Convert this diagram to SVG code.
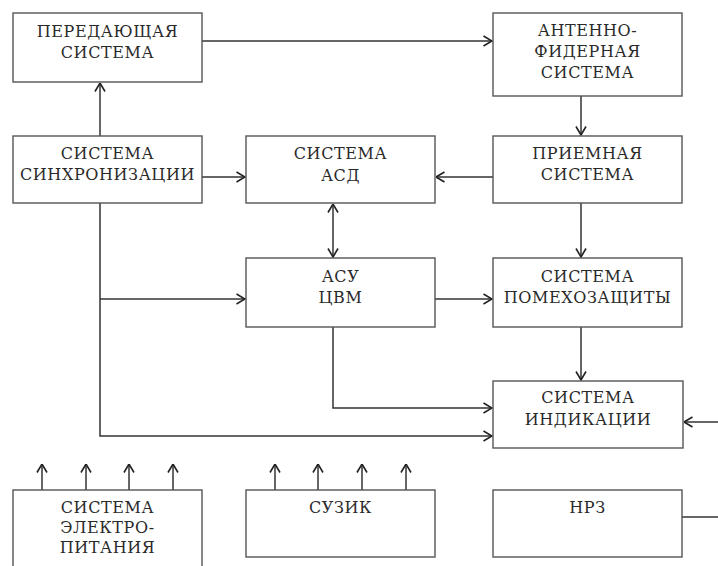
<svg xmlns="http://www.w3.org/2000/svg" width="718" height="566" viewBox="0 0 718 566">
  <style>
    .box { fill: #ffffff; stroke: #555555; stroke-width: 1.4; }
    .wire { fill: none; stroke: #333333; stroke-width: 1.5; }
    .lbl { font-family: "DejaVu Serif", "Liberation Serif", serif; font-size: 16px; letter-spacing: 0.6px; fill: #2a2a2a; text-anchor: middle; }
  </style>
  <defs>
    <marker id="arr" viewBox="0 0 10 12" refX="9.5" refY="6" markerWidth="10" markerHeight="12" markerUnits="userSpaceOnUse" orient="auto-start-reverse">
      <path d="M1,1 L9.5,6 L1,11" fill="none" stroke="#222222" stroke-width="1.6"/>
    </marker>
  </defs>
  <rect width="718" height="566" fill="#ffffff"/>

  <g id="connectors">
    <!-- transmitter to antenna-feeder -->
    <line class="wire" x1="202" y1="41" x2="492" y2="41" marker-end="url(#arr)"/>
    <!-- sync to transmitter -->
    <line class="wire" x1="100" y1="136" x2="100" y2="83" marker-end="url(#arr)"/>
    <!-- antenna to receiver -->
    <line class="wire" x1="581" y1="96" x2="581" y2="135" marker-end="url(#arr)"/>
    <!-- sync to ASD -->
    <line class="wire" x1="202" y1="177" x2="245" y2="177" marker-end="url(#arr)"/>
    <!-- receiver to ASD -->
    <line class="wire" x1="493" y1="177" x2="436" y2="177" marker-end="url(#arr)"/>
    <!-- ASD <-> ASU -->
    <line class="wire" x1="333" y1="204" x2="333" y2="257" marker-start="url(#arr)" marker-end="url(#arr)"/>
    <!-- receiver to jamming protection -->
    <line class="wire" x1="581" y1="203" x2="581" y2="257" marker-end="url(#arr)"/>
    <!-- sync trunk with branches -->
    <polyline class="wire" points="100,203 100,436 492,436" marker-end="url(#arr)"/>
    <line class="wire" x1="100" y1="299" x2="245" y2="299" marker-end="url(#arr)"/>
    <!-- ASU to jamming protection -->
    <line class="wire" x1="435" y1="299" x2="492" y2="299" marker-end="url(#arr)"/>
    <!-- ASU to indication -->
    <polyline class="wire" points="333,327 333,408 492,408" marker-end="url(#arr)"/>
    <!-- jamming protection to indication -->
    <line class="wire" x1="581" y1="327" x2="581" y2="380" marker-end="url(#arr)"/>
    <!-- external input to indication -->
    <line class="wire" x1="718" y1="422" x2="684" y2="422" marker-end="url(#arr)"/>
    <!-- power supply outputs -->
    <line class="wire" x1="42" y1="490" x2="42" y2="464" marker-end="url(#arr)"/>
    <line class="wire" x1="86" y1="490" x2="86" y2="464" marker-end="url(#arr)"/>
    <line class="wire" x1="129" y1="490" x2="129" y2="464" marker-end="url(#arr)"/>
    <line class="wire" x1="173" y1="490" x2="173" y2="464" marker-end="url(#arr)"/>
    <!-- SUZIK outputs -->
    <line class="wire" x1="275" y1="490" x2="275" y2="464" marker-end="url(#arr)"/>
    <line class="wire" x1="318" y1="490" x2="318" y2="464" marker-end="url(#arr)"/>
    <line class="wire" x1="362" y1="490" x2="362" y2="464" marker-end="url(#arr)"/>
    <line class="wire" x1="406" y1="490" x2="406" y2="464" marker-end="url(#arr)"/>
    <!-- NRZ output -->
    <line class="wire" x1="682" y1="517" x2="718" y2="517"/>
  </g>

  <g id="transmitter">
    <rect class="box" x="13" y="13" width="189" height="69"/>
    <text class="lbl" x="107.5" y="37">ПЕРЕДАЮЩАЯ</text>
    <text class="lbl" x="107.5" y="58">СИСТЕМА</text>
  </g>
  <g id="antenna">
    <rect class="box" x="493" y="13" width="189" height="83"/>
    <text class="lbl" x="587.5" y="36">АНТЕННО-</text>
    <text class="lbl" x="587.5" y="57">ФИДЕРНАЯ</text>
    <text class="lbl" x="587.5" y="78">СИСТЕМА</text>
  </g>
  <g id="sync">
    <rect class="box" x="13" y="136" width="189" height="67"/>
    <text class="lbl" x="107.5" y="159">СИСТЕМА</text>
    <text class="lbl" x="107.5" y="180">СИНХРОНИЗАЦИИ</text>
  </g>
  <g id="asd">
    <rect class="box" x="246" y="136" width="189" height="67"/>
    <text class="lbl" x="340.5" y="159">СИСТЕМА</text>
    <text class="lbl" x="340.5" y="181">АСД</text>
  </g>
  <g id="receiver">
    <rect class="box" x="493" y="136" width="189" height="67"/>
    <text class="lbl" x="587.5" y="159">ПРИЕМНАЯ</text>
    <text class="lbl" x="587.5" y="180">СИСТЕМА</text>
  </g>
  <g id="asu">
    <rect class="box" x="246" y="258" width="189" height="69"/>
    <text class="lbl" x="340.5" y="282">АСУ</text>
    <text class="lbl" x="340.5" y="303">ЦВМ</text>
  </g>
  <g id="jamming">
    <rect class="box" x="493" y="258" width="189" height="69"/>
    <text class="lbl" x="587.5" y="282">СИСТЕМА</text>
    <text class="lbl" x="587.5" y="303">ПОМЕХОЗАЩИТЫ</text>
  </g>
  <g id="indication">
    <rect class="box" x="493" y="381" width="190" height="67"/>
    <text class="lbl" x="588" y="403">СИСТЕМА</text>
    <text class="lbl" x="588" y="425">ИНДИКАЦИИ</text>
  </g>
  <g id="power">
    <rect class="box" x="13" y="490" width="189" height="90"/>
    <text class="lbl" x="107.5" y="513">СИСТЕМА</text>
    <text class="lbl" x="107.5" y="533">ЭЛЕКТРО-</text>
    <text class="lbl" x="107.5" y="553">ПИТАНИЯ</text>
  </g>
  <g id="suzik">
    <rect class="box" x="246" y="490" width="189" height="67"/>
    <text class="lbl" x="340.5" y="513">СУЗИК</text>
  </g>
  <g id="nrz">
    <rect class="box" x="493" y="490" width="189" height="67"/>
    <text class="lbl" x="587.5" y="513">НРЗ</text>
  </g>
</svg>
